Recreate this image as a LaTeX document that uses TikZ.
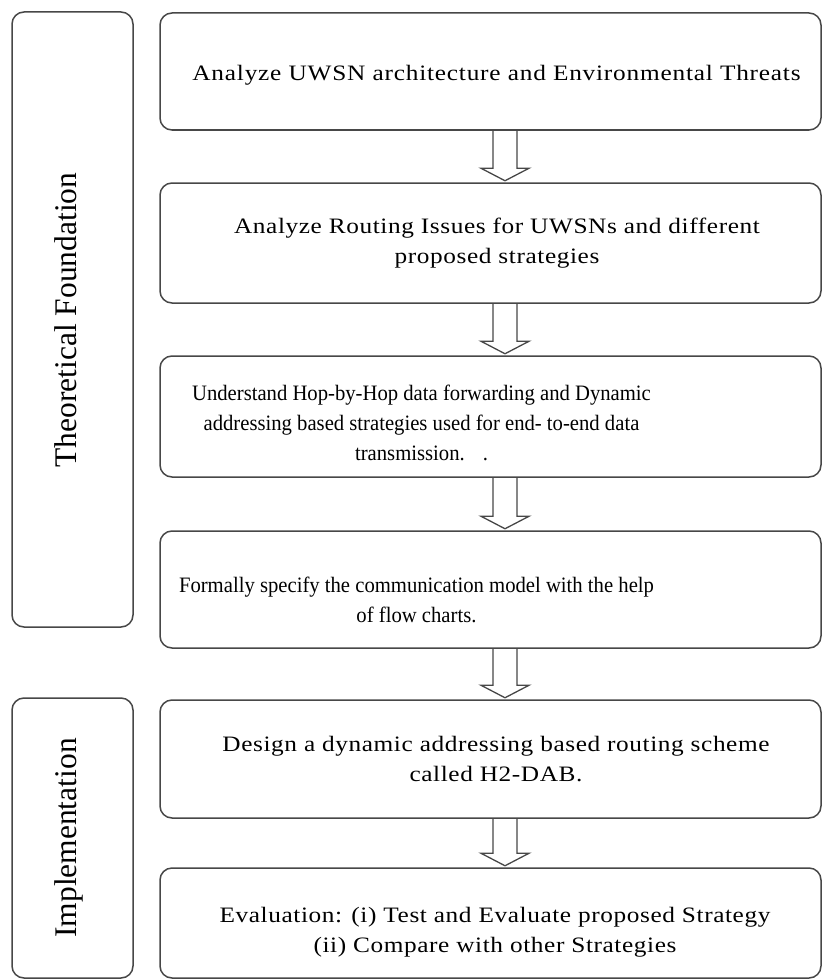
\documentclass[tikz,border=0pt]{standalone}
\usepackage{fontspec}
\setmainfont{Liberation Serif}
\newfontfamily\widefont[FakeStretch=1.15,LetterSpace=2.7]{Liberation Serif}
\newfontfamily\widerfont[FakeStretch=1.15,LetterSpace=3.6]{Liberation Serif}
\newfontfamily\narrowfont[FakeStretch=0.94]{Liberation Serif}
\usetikzlibrary{calc}
\newcommand\flowarrow[2]{%
  \draw[blockarrow] let \p1=(#1.south), \p2=(#2.north) in
    (\x1+2.5pt,\y1) -- (\x1+2.5pt,\y2+14pt) -- (\x1-9.5pt,\y2+14pt)
    -- (\x1+14.5pt,\y2+1.5pt) -- (\x1+38.5pt,\y2+14pt)
    -- (\x1+26.5pt,\y2+14pt) -- (\x1+26.5pt,\y1);}
\begin{document}
\begin{tikzpicture}[x=1pt,y=-1pt,
  boxline/.style={draw=black!72, line width=1.5pt, rounded corners=12pt},
  stepbox/.style={boxline, minimum width=661pt, inner sep=0pt},
  sidebox/.style={boxline, minimum width=121pt, inner sep=0pt},
  widetext/.style={font=\widefont\fontsize{22}{30}\selectfont, align=center, inner sep=0pt},
  widertext/.style={font=\widerfont\fontsize{22}{30}\selectfont, align=center, inner sep=0pt},
  narrowtext/.style={font=\narrowfont\fontsize{22}{30}\selectfont, align=center, inner sep=0pt},
  sidetext/.style={font=\fontsize{31.5}{36}\selectfont, rotate=90, inner sep=0pt, text height=21.7pt, text depth=0pt},
  blockarrow/.style={draw=black!72, line width=1.3pt, line join=miter}
]
\fill[white] (0,0) rectangle (823,979);
\useasboundingbox (0,0) rectangle (823,979);

% side boxes
\node[sidebox, minimum height=615pt] (s1) at (72.5,319.5) {};
\node[sidebox, minimum height=280pt] (s2) at (72.5,838) {};
\node[sidetext] (l1) at (66,320) {Theoretical Foundation};
\node[sidetext] (l2) at (66,838) {Implementation};

% step boxes
\node[stepbox, minimum height=117pt] (b1) at (490.5,71.5) {};
\node[stepbox, minimum height=120pt] (b2) at (490.5,243) {};
\node[stepbox, minimum height=121pt] (b3) at (490.5,416.5) {};
\node[stepbox, minimum height=117pt] (b4) at (490.5,589.5) {};
\node[stepbox, minimum height=118pt] (b5) at (490.5,759) {};
\node[stepbox, minimum height=110pt] (b6) at (490.5,923) {};

% texts
\node[widertext] (t1) at (496.5,75) {Analyze UWSN architecture and Environmental Threats};
\node[widetext] (t2) at (497,243) {Analyze Routing Issues for UWSNs and different\\proposed strategies};
\node[narrowtext] (t3) at (421.5,423) {Understand Hop-by-Hop data forwarding and Dynamic\\addressing based strategies used for end- to-end data\\transmission.\hspace{18pt}.};
\node[narrowtext] (t4) at (416.5,600) {Formally specify the communication model with the help\\of flow charts.};
\node[widetext] (t5) at (496,759.5) {Design a dynamic addressing based routing scheme\\called H2-DAB.};
\node[widetext] (t6) at (495,932) {Evaluation: (i) Test and Evaluate proposed Strategy\\(ii) Compare with other Strategies};

% arrows
\flowarrow{b1}{b2}
\flowarrow{b2}{b3}
\flowarrow{b3}{b4}
\flowarrow{b4}{b5}
\flowarrow{b5}{b6}
\end{tikzpicture}
\end{document}
